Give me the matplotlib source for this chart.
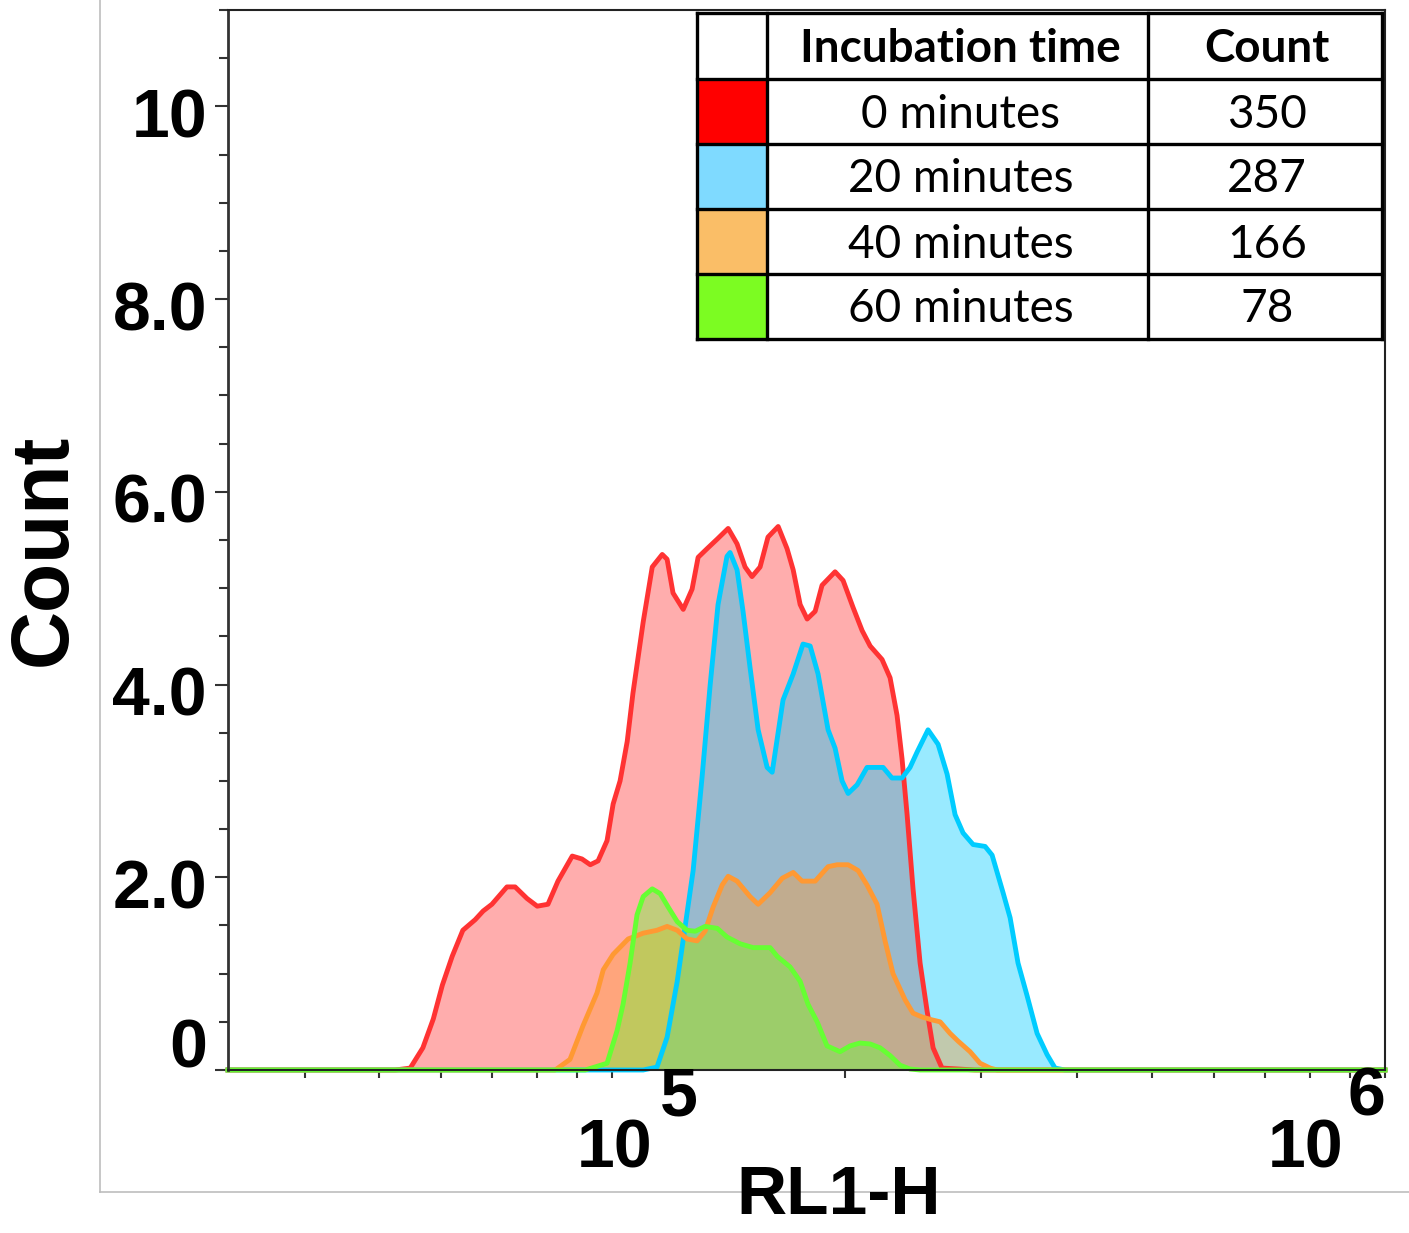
import numpy as np
import matplotlib.pyplot as plt
from matplotlib.lines import Line2D
from matplotlib.patches import Rectangle
from matplotlib.ticker import LogLocator, MultipleLocator, NullFormatter

W, H = 1409, 1233

# histogram traces: RL1-H value, count
red_x = [52400, 54800, 56900, 58700, 60300, 62100, 64100, 66500, 68100, 69900,
         73100, 74900, 77600, 80000, 82600, 85100, 88800, 91400, 93700, 95900,
         98500, 100300, 102400, 104600, 106400, 109700, 112700, 116100, 117800, 119900,
         123600, 126900, 129200, 132700, 136800, 141300, 145100, 148600, 151700, 155400,
         159100, 164000, 168400, 171500, 175100, 178800, 183100, 186900, 194300, 199000,
         205000, 210600, 215700, 223500, 228900, 233700, 237200, 240800, 245100, 250300,
         255600, 260200, 267200, 294900]
red_y = [0, 0.02, 0.23, 0.53, 0.88, 1.18, 1.45, 1.56, 1.65, 1.72,
         1.90, 1.90, 1.78, 1.70, 1.72, 1.96, 2.22, 2.19, 2.13, 2.17,
         2.38, 2.76, 3.00, 3.41, 3.91, 4.65, 5.22, 5.35, 5.30, 4.95,
         4.78, 4.99, 5.32, 5.41, 5.51, 5.62, 5.46, 5.22, 5.12, 5.22,
         5.53, 5.64, 5.41, 5.19, 4.83, 4.68, 4.76, 5.03, 5.17, 5.08,
         4.80, 4.56, 4.40, 4.26, 4.07, 3.68, 3.23, 2.65, 1.88, 1.11,
         0.61, 0.23, 0.02, 0]

blue_x = [109700, 114300, 117800, 121400, 124300, 127300, 130700, 133900, 137100, 140800,
          142100, 145100, 147700, 150800, 154500, 158700, 161100, 166400, 171500, 176600,
          180400, 184700, 190300, 194300, 198400, 202000, 207500, 213700, 224200, 230200,
          237200, 242900, 248100, 256300, 264100, 271300, 277800, 284500, 293100, 303800,
          310200, 320500, 327300, 335100, 344300, 354700, 365400, 374200, 385500]
blue_y = [0, 0.03, 0.34, 0.92, 1.49, 2.07, 3.03, 3.99, 4.83, 5.33,
          5.37, 5.19, 4.76, 4.18, 3.53, 3.14, 3.09, 3.84, 4.11, 4.42,
          4.40, 4.11, 3.53, 3.34, 3.00, 2.87, 2.96, 3.14, 3.14, 3.03,
          3.03, 3.14, 3.30, 3.53, 3.38, 3.07, 2.65, 2.46, 2.34, 2.32,
          2.23, 1.84, 1.58, 1.11, 0.77, 0.38, 0.16, 0.02, 0]

orange_x = [84400, 88200, 91700, 95600, 97400, 100300, 104900, 109700, 114300, 117800,
            121400, 125000, 128800, 131900, 135100, 138800, 141300, 145100, 150800, 154500,
            160100, 166000, 171500, 176100, 183100, 190300, 195500, 202000, 208100, 213700,
            220200, 225500, 230900, 239300, 245100, 251800, 259400, 265700, 273700, 280300,
            290500, 299300, 308400, 314900]
orange_y = [0, 0.11, 0.46, 0.80, 1.04, 1.20, 1.36, 1.42, 1.45, 1.49,
            1.45, 1.36, 1.34, 1.44, 1.69, 1.92, 2.01, 1.96, 1.80, 1.72,
            1.84, 1.99, 2.05, 1.96, 1.96, 2.11, 2.13, 2.13, 2.07, 1.92,
            1.72, 1.34, 1.00, 0.73, 0.59, 0.55, 0.52, 0.50, 0.38, 0.30,
            0.19, 0.07, 0.02, 0]

green_x = [92300, 98500, 101500, 103300, 105500, 107700, 109700, 112700, 115400, 118200,
           121400, 125000, 128100, 131900, 136800, 140800, 146400, 152200, 160100, 163500,
           169900, 175100, 179300, 184200, 189700, 197200, 203200, 209300, 215700, 222200,
           228900, 235800, 242900, 250300]
green_y = [0, 0.07, 0.41, 0.68, 1.11, 1.61, 1.80, 1.88, 1.83, 1.69,
           1.54, 1.45, 1.44, 1.49, 1.47, 1.38, 1.31, 1.27, 1.27, 1.18,
           1.07, 0.92, 0.68, 0.50, 0.25, 0.19, 0.25, 0.28, 0.27, 0.23,
           0.15, 0.05, 0.01, 0]

incubation = ["0 minutes", "20 minutes", "40 minutes", "60 minutes"]
counts = [350, 287, 166, 78]

line_colors = ["#FF3333", "#00CCFF", "#FF9933", "#66FF33"]
swatch_colors = ["#FF0000", "#7FDAFF", "#FABE67", "#7CFC22"]

ytick_vals = [0, 2, 4, 6, 8, 10]
ytick_text = ["0", "2.0", "4.0", "6.0", "8.0", "10"]
xtick_vals = [1e5, 1e6]
xtick_exp = ["5", "6"]


def fbox(x0, y0, x1, y1):
    # pixel box in the picture -> figure fraction rect
    return [x0 / W, 1 - y1 / H, (x1 - x0) / W, (y1 - y0) / H]


fig = plt.figure(figsize=(W / 100, H / 100), dpi=100)

# light gray frame of the original screenshot
fig.add_artist(Line2D([100 / W, 100 / W], [1, 1 - 1192 / H], color="#BDBDBD", lw=1.2, zorder=0))
fig.add_artist(Line2D([100 / W, 1], [1 - 1192 / H, 1 - 1192 / H], color="#BDBDBD", lw=1.2, zorder=0))

ax = fig.add_axes(fbox(228, 10, 1385, 1070))
ax.set_xscale("log")
ax.set_xlim(10 ** 4.503, 1e6)
ax.set_ylim(0, 11)
xmin, xmax = ax.get_xlim()

series = [(red_x, red_y), (blue_x, blue_y), (orange_x, orange_y), (green_x, green_y)]
for (xs, ys), c in zip(series, line_colors):
    xs = [xmin] + list(xs) + [xmax]
    ys = [0] + list(ys) + [0]
    ax.fill_between(xs, ys, 0, color=c, alpha=0.4, lw=0)
    ax.plot(xs, ys, color=c, lw=3.5, clip_on=False, solid_joinstyle="round")

for side in ["top", "right", "bottom"]:
    ax.spines[side].set_linewidth(1.5)
    ax.spines[side].set_color("#222222")
ax.spines["left"].set_linewidth(2)
ax.spines["left"].set_color("#333333")

ax.yaxis.set_major_locator(MultipleLocator(2))
ax.yaxis.set_minor_locator(MultipleLocator(0.5))
ax.xaxis.set_major_locator(LogLocator(base=10))
ax.xaxis.set_minor_locator(LogLocator(base=10, subs=np.arange(2, 10)))
ax.xaxis.set_minor_formatter(NullFormatter())
ax.tick_params(axis="y", which="major", length=9.5, width=1.5, color="#333333", labelleft=False)
ax.tick_params(axis="y", which="minor", length=6.5, width=1.5, color="#333333")
ax.tick_params(axis="x", which="both", length=6, width=1.5, color="#333333", labelbottom=False)

tick_font = dict(family="Liberation Sans", fontweight="bold", fontsize=49, color="black")

# y tick labels, slightly below their ticks as in the original
for v, t in zip(ytick_vals, ytick_text):
    if v == 0:
        ax.annotate(t, (0, v), xycoords=("axes fraction", "data"), xytext=(-21, -12),
                    textcoords="offset pixels", ha="right", va="bottom", **tick_font)
    else:
        ax.annotate(t, (0, v), xycoords=("axes fraction", "data"), xytext=(-21, -13),
                    textcoords="offset pixels", ha="right", va="center", **tick_font)

# x tick labels: "10" with a full-size exponent
x_offsets = [(40, 48), (-42, -37)]
for v, e, (o_base, o_exp) in zip(xtick_vals, xtick_exp, x_offsets):
    ax.annotate("10", (v, 0), xycoords=("data", "axes fraction"), xytext=(o_base, -80),
                textcoords="offset pixels", ha="right", va="center", **tick_font)
    ax.annotate(e, (v, 0), xycoords=("data", "axes fraction"), xytext=(o_exp, -28),
                textcoords="offset pixels", ha="left", va="center", **tick_font)

fig.text(839 / W, 1 - 1196 / H, "RL1-H", family="Liberation Sans", fontweight="bold",
         fontsize=50, ha="center", va="center", zorder=5)
fig.text(45 / W, 1 - 550 / H, "Count", family="Liberation Sans", fontweight="bold",
         fontsize=58, ha="center", va="center", rotation=90)

# legend table
tax = fig.add_axes(fbox(697, 13, 1382, 339))
tax.set_xlim(697, 1382)
tax.set_ylim(339, 13)
tax.axis("off")
rows = [13, 79, 144, 209, 274, 339]
cols = [697, 767, 1148, 1382]

tax.add_patch(Rectangle((cols[0], rows[0]), cols[-1] - cols[0], rows[-1] - rows[0],
                        facecolor="white", edgecolor="none", zorder=1))
for i, c in enumerate(swatch_colors):
    tax.add_patch(Rectangle((cols[0], rows[i + 1]), cols[1] - cols[0], rows[i + 2] - rows[i + 1],
                            facecolor=c, edgecolor="none", zorder=2))
for y in rows:
    tax.plot([cols[0], cols[-1]], [y, y], color="black", lw=2.4, clip_on=False, zorder=3,
             solid_capstyle="projecting")
for x in cols:
    tax.plot([x, x], [rows[0], rows[-1]], color="black", lw=2.4, clip_on=False, zorder=3,
             solid_capstyle="projecting")

cx1 = (cols[1] + cols[2]) / 2 + 3
cx2 = (cols[2] + cols[3]) / 2 + 2
head_y = (rows[0] + rows[1]) / 2 + 3
tax.text(cx1, head_y, "Incubation time", family="Lato", fontweight="bold", fontsize=33,
         ha="center", va="center", zorder=4)
tax.text(cx2, head_y, "Count", family="Lato", fontweight="bold", fontsize=33,
         ha="center", va="center", zorder=4)
for i, (lab, n) in enumerate(zip(incubation, counts)):
    ry = (rows[i + 1] + rows[i + 2]) / 2 + 3
    tax.text(cx1, ry, lab, family="Lato", fontsize=33, ha="center", va="center", zorder=4)
    tax.text(cx2, ry, str(n), family="Lato", fontsize=33, ha="center", va="center", zorder=4)

fig.savefig("out.png", dpi=100)
